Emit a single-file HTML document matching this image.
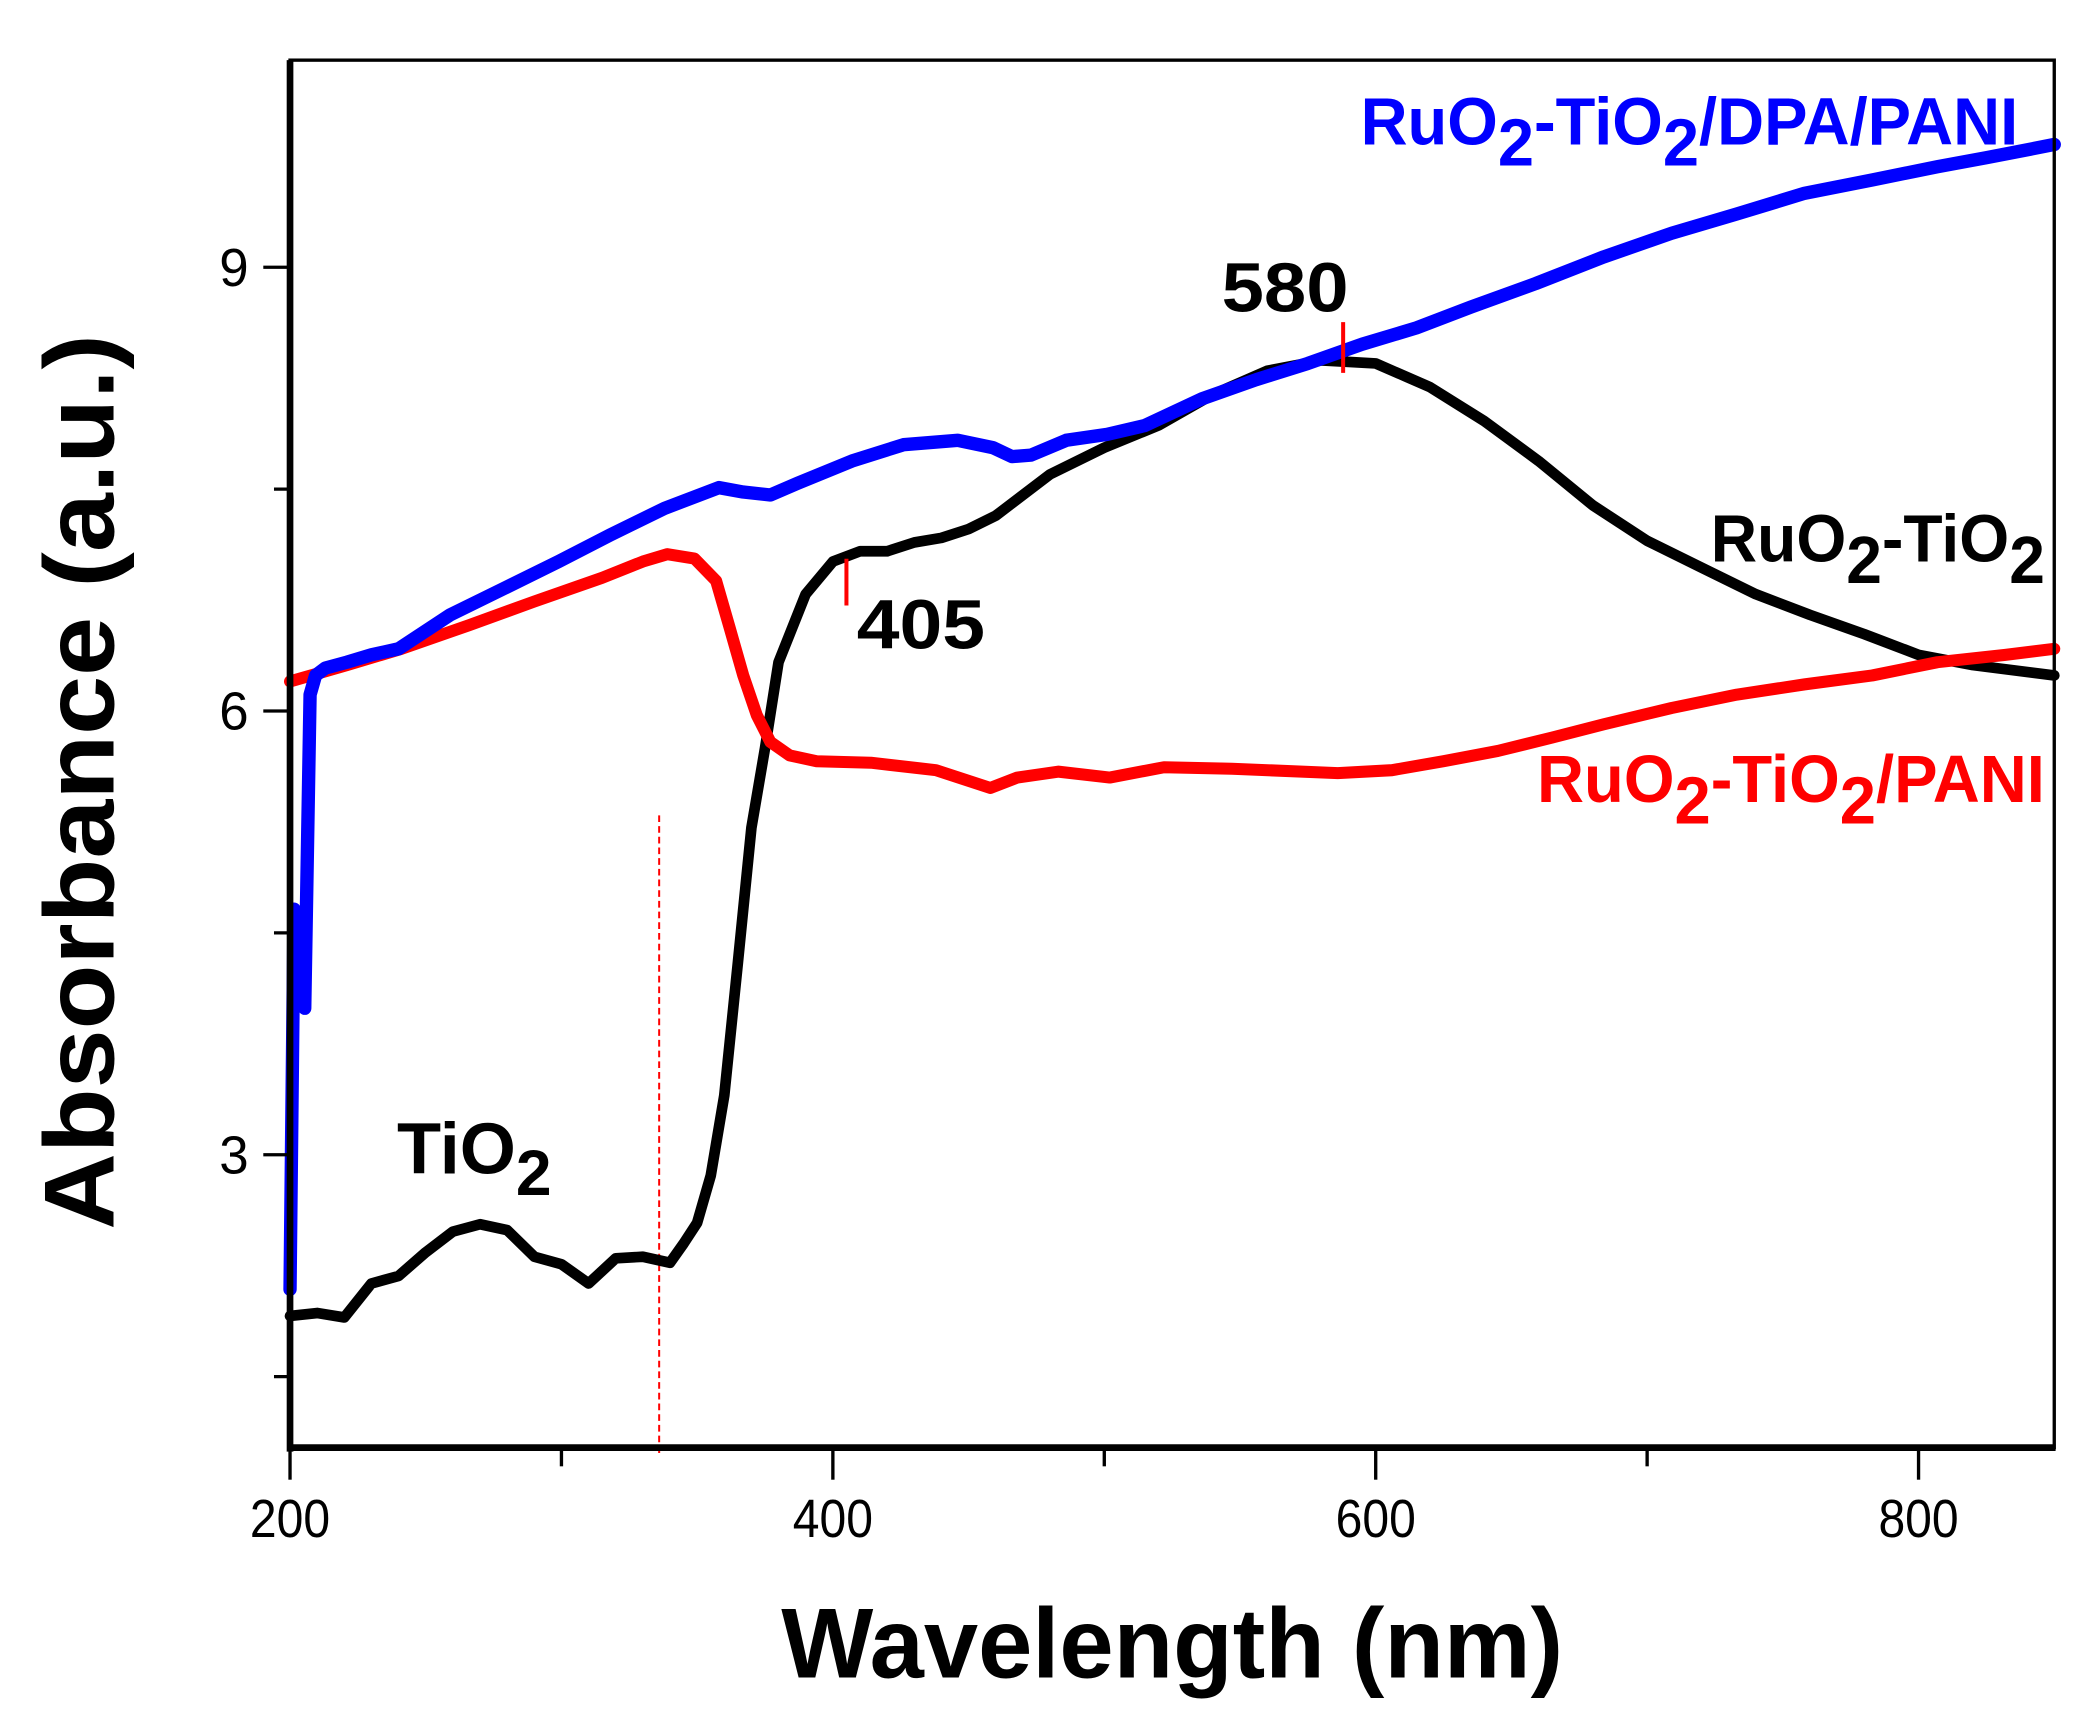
<!DOCTYPE html>
<html><head><meta charset="utf-8"><style>
html,body{margin:0;padding:0;background:#fff;}
svg{display:block;}
text{font-family:"Liberation Sans",Arial,sans-serif;}
</style></head><body>
<svg id="chart" width="2085" height="1735" viewBox="0 0 1560 1298" preserveAspectRatio="none" xmlns="http://www.w3.org/2000/svg">
<g id="plot"></g>
<g id="axes"></g>
</svg>
<script>
const xTicks=[200,400,600,800];
const xMinor=[300,500,700];
const yTicks=[3,6,9];
const yMinor=[1.5,4.5,7.5];
const blackNm=[200,210,220,230,240,250,260,270,280,290,300,310,320,330,340,345,350,355,360,365,370,375,380,390,400,410,420,430,440,450,460,480,500,520,540,560,580,600,620,640,660,680,700,720,740,760,780,800,820,850];
const blackVal=[1.91,1.93,1.90,2.13,2.18,2.34,2.48,2.53,2.49,2.31,2.26,2.13,2.30,2.31,2.27,2.40,2.54,2.86,3.40,4.30,5.21,5.75,6.33,6.79,7.01,7.08,7.08,7.14,7.17,7.23,7.32,7.60,7.78,7.93,8.14,8.30,8.37,8.35,8.19,7.96,7.69,7.39,7.15,6.97,6.79,6.65,6.52,6.38,6.31,6.24];
const redNm=[200,221,241,266,290,315,330,339,349,357,362,367,372,377,384,394,414,438,458,468,483,502,522,547,586,606,625,645,665,684,709,733,758,783,807,832,850];
const redVal=[6.20,6.31,6.42,6.58,6.74,6.90,7.01,7.06,7.03,6.88,6.56,6.24,5.97,5.79,5.70,5.66,5.65,5.60,5.48,5.55,5.59,5.55,5.62,5.61,5.58,5.60,5.66,5.73,5.82,5.91,6.02,6.11,6.18,6.24,6.33,6.38,6.42];
const blueNm=[200,201.5,204.4,205.4,207.4,209.4,213,221,230,240,259,279,299,318,338,358,367,377,387,407,426,446,459,466,473,486,501,515,536,556,575,595,615,635,659,684,709,733,758,783,807,825,850];
const blueVal=[2.09,4.66,4.57,3.99,6.11,6.24,6.29,6.33,6.38,6.42,6.65,6.83,7.01,7.19,7.37,7.51,7.48,7.46,7.54,7.69,7.80,7.83,7.78,7.72,7.73,7.83,7.87,7.93,8.11,8.24,8.35,8.48,8.59,8.73,8.89,9.07,9.23,9.36,9.50,9.59,9.68,9.74,9.83];
const NS="http://www.w3.org/2000/svg";
const L=217,R=1537,T=45,B=1083,XMIN=200,XMAX=850,YMIN=1.02,YMAX=10.4;
function sx(v){return L+(v-XMIN)/(XMAX-XMIN)*(R-L);}
function sy(v){return B-(v-YMIN)/(YMAX-YMIN)*(B-T);}
function mk(tag,attrs,parent){const e=document.createElementNS(NS,tag);for(const k in attrs)e.setAttribute(k,attrs[k]);parent.appendChild(e);return e;}
const plot=document.getElementById('plot'),axes=document.getElementById('axes');
function series(nm,val,color,w,name){
  const d=nm.map((n,i)=>(i?'L':'M')+sx(n).toFixed(1)+','+sy(val[i]).toFixed(1)).join(' ');
  const p=mk('path',{d:d,fill:'none',stroke:color,'stroke-width':w,'stroke-linejoin':'round','stroke-linecap':'round'},plot);
  
  
}
const dl=mk('line',{x1:sx(336),x2:sx(336),y1:610,y2:1090,stroke:'#f00','stroke-width':1.5,'stroke-dasharray':'5,3'},plot);


series(blackNm,blackVal,'#000',8,'series-ruo2-tio2');
series(redNm,redVal,'#f00',9,'series-ruo2-tio2-pani');
series(blueNm,blueVal,'#00f',10,'series-ruo2-tio2-dpa-pani');
const m1=mk('line',{x1:sx(405),x2:sx(405),y1:418,y2:453,stroke:'#f00','stroke-width':3},plot);


const m2=mk('line',{x1:sx(588),x2:sx(588),y1:241,y2:279,stroke:'#f00','stroke-width':3},plot);


mk('rect',{x:L,y:T,width:R-L,height:B-T,fill:'none',stroke:'#000','stroke-width':2.5},axes);
const la=mk('line',{x1:L,x2:L,y1:T,y2:B+3,stroke:'#000','stroke-width':5},axes);


const ba=mk('line',{x1:L-2,x2:R+1,y1:B,y2:B,stroke:'#000','stroke-width':5},axes);


xTicks.forEach(v=>{
  mk('line',{x1:sx(v),x2:sx(v),y1:B,y2:B+24,stroke:'#000','stroke-width':2.5},axes);
  const t=mk('text',{x:sx(v),y:1150,'text-anchor':'middle','font-size':40,textLength:60,lengthAdjust:'spacingAndGlyphs'},axes);
  t.textContent=v;
  
  
});
xMinor.forEach(v=>{mk('line',{x1:sx(v),x2:sx(v),y1:B,y2:B+14,stroke:'#000','stroke-width':2.5},axes);});
yTicks.forEach(v=>{
  mk('line',{x1:L-20,x2:L,y1:sy(v),y2:sy(v),stroke:'#000','stroke-width':2.5},axes);
  const t=mk('text',{x:186,y:sy(v)+14,'text-anchor':'end','font-size':40,textLength:22,lengthAdjust:'spacingAndGlyphs'},axes);
  t.textContent=v;
  
  
});
yMinor.forEach(v=>{mk('line',{x1:L-12,x2:L,y1:sy(v),y2:sy(v),stroke:'#000','stroke-width':2.5},axes);});
</script>
<svg style="position:absolute;left:0;top:0" width="2085" height="1735" viewBox="0 0 1560 1298" preserveAspectRatio="none" xmlns="http://www.w3.org/2000/svg">
<g font-family="Liberation Sans, Arial, sans-serif" font-weight="bold">
<text x="877" y="1255" text-anchor="middle" font-size="74" textLength="585" lengthAdjust="spacingAndGlyphs">Wavelength (nm)</text>
<text transform="translate(85,585) rotate(-90)" text-anchor="middle" font-size="74" textLength="670" lengthAdjust="spacingAndGlyphs">Absorbance (a.u.)</text>
<text x="914" y="233" font-size="52" textLength="95" lengthAdjust="spacingAndGlyphs">580</text>
<text x="641" y="485" font-size="52" textLength="96" lengthAdjust="spacingAndGlyphs">405</text>
<text x="297" y="878" font-size="54">TiO<tspan font-size="48" dy="16">2</tspan></text>
<text x="1018" y="108" font-size="50" fill="#00f" textLength="492" lengthAdjust="spacingAndGlyphs">RuO<tspan dy="16">2</tspan><tspan dy="-16">-TiO</tspan><tspan dy="16">2</tspan><tspan dy="-16">/DPA/PANI</tspan></text>
<text x="1280" y="420" font-size="50" fill="#000" textLength="250" lengthAdjust="spacingAndGlyphs">RuO<tspan dy="16">2</tspan><tspan dy="-16">-TiO</tspan><tspan dy="16">2</tspan></text>
<text x="1150" y="600" font-size="50" fill="#f00" textLength="380" lengthAdjust="spacingAndGlyphs">RuO<tspan dy="16">2</tspan><tspan dy="-16">-TiO</tspan><tspan dy="16">2</tspan><tspan dy="-16">/PANI</tspan></text>
</g>
</svg>
</body></html>
